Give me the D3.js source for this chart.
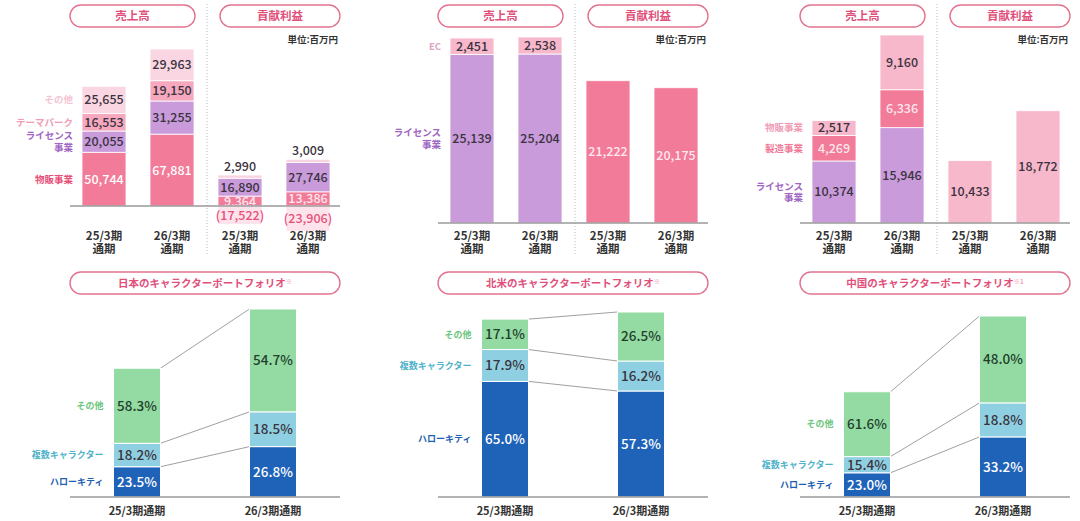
<!DOCTYPE html>
<html>
<head>
<meta charset="utf-8">
<script src="https://cdn.jsdelivr.net/npm/d3@7"></script>
<style>
  body { margin: 0; background: #fff; }
  svg { display: block; font-family: "Noto Sans CJK JP", "Noto Sans", sans-serif; }
</style>
</head>
<body>
<script>
// periods
var periods = ["25/3期", "26/3期"];

// 日本 売上高 / 貢献利益 (百万円)
var jpSalesMerch = [50744, 67881];
var jpSalesLicense = [20055, 31255];
var jpSalesTheme = [16553, 19150];
var jpSalesOther = [25655, 29963];
var jpProfitMerch = [9364, 13386];
var jpProfitLicense = [16890, 27746];
var jpProfitTheme = [2990, 3009];
var jpProfitOther = [-17522, -23906];

// 北米
var naSalesLicense = [25139, 25204];
var naSalesEC = [2451, 2538];
var naProfit = [21222, 20175];

// 中国
var cnSalesLicense = [10374, 15946];
var cnSalesMfg = [4269, 6336];
var cnSalesMerch = [2517, 9160];
var cnProfit = [10433, 18772];

// キャラクターポートフォリオ (%), bar size as relative index
var jpKitty = [23.5, 26.8], jpMulti = [18.2, 18.5], jpOther = [58.3, 54.7], jpSize = [100, 146];
var naKitty = [65.0, 57.3], naMulti = [17.9, 16.2], naOther = [17.1, 26.5], naSize = [100, 104];
var cnKitty = [23.0, 33.2], cnMulti = [15.4, 18.8], cnOther = [61.6, 48.0], cnSize = [100, 172];

var PINK = "#f27b99", LAV = "#c99bdb", THEME = "#f6a8be", OTHER = "#f9d6e1", LIGHT = "#f8b8cb";
var GREEN = "#93dba3", SKY = "#8ed0e1", BLUE = "#1f63b9";
var DARK = "#3b3340";

var fmt = d3.format(",");

var svg = d3.select("body").append("svg")
  .attr("width", 1080)
  .attr("height", 521);

function pill(g, x1, x2, y, h, label, size, note) {
  g.append("rect")
    .attr("x", x1).attr("y", y)
    .attr("width", x2 - x1).attr("height", h)
    .attr("rx", h / 2)
    .attr("fill", "#fff")
    .attr("stroke", "#e2738f")
    .attr("stroke-width", 1.4);
  var t = g.append("text")
    .attr("x", (x1 + x2) / 2).attr("y", y + h / 2)
    .attr("dy", "0.36em")
    .attr("text-anchor", "middle")
    .attr("font-size", size)
    .attr("font-weight", "bold")
    .attr("fill", "#e0507a");
  t.append("tspan").text(label);
  if (note) {
    t.append("tspan")
      .attr("font-size", size * 0.6)
      .attr("dy", "-0.5em")
      .attr("fill", "#f0a0b8")
      .text(note);
  }
}

function legendLabel(g, x, y, lines, color, size) {
  var t = g.append("text")
    .attr("x", x).attr("y", y)
    .attr("text-anchor", "end")
    .attr("font-size", size)
    .attr("font-weight", "bold")
    .attr("fill", color);
  lines.forEach(function (l, i) {
    t.append("tspan")
      .attr("x", x)
      .attr("dy", i == 0 ? (0.36 - (lines.length - 1) * 0.62) + "em" : "1.25em")
      .text(l);
  });
}

// stacked bars for one group of two periods
function drawStack(g, series, xs, y, bw) {
  var rows = periods.map(function (p, i) {
    var o = { period: p };
    series.forEach(function (s) { o[s.key] = s.values[i]; });
    return o;
  });
  var stacked = d3.stack()
    .keys(series.map(function (s) { return s.key; }))
    .offset(d3.stackOffsetDiverging)(rows);

  stacked.forEach(function (layer, li) {
    var s = series[li];
    g.append("g").selectAll("rect")
      .data(layer)
      .join("rect")
      .attr("x", function (d) { return xs(d.data.period) - bw / 2; })
      .attr("y", function (d) { return y(d[1]); })
      .attr("width", bw)
      .attr("height", function (d) { return y(d[0]) - y(d[1]); })
      .attr("fill", s.fill)
      .attr("stroke", "#fff")
      .attr("stroke-width", 0.8);
  });
  stacked.forEach(function (layer, li) {
    var s = series[li];
    g.append("g").selectAll("text")
      .data(layer)
      .join("text")
      .attr("x", function (d) { return xs(d.data.period); })
      .attr("y", function (d) {
        return s.above ? y(d[1]) - 9 : y((d[0] + d[1]) / 2);
      })
      .attr("dy", "0.36em")
      .attr("text-anchor", "middle")
      .attr("font-size", 12.5)
      .attr("font-weight", 500)
      .attr("fill", s.text)
      .text(function (d) {
        var v = d.data[s.key];
        return v < 0 ? "(" + fmt(-v) + ")" : fmt(v);
      });
  });
  return stacked;
}

function drawTopPanel(cfg) {
  var g = svg.append("g").attr("transform", "translate(" + cfg.x0 + ",0)");
  var y = d3.scaleLinear().domain([0, cfg.max]).range([cfg.base, cfg.top]);
  var xsSales = d3.scalePoint().domain(periods).range([104, 172]);
  var xsProfit = d3.scalePoint().domain(periods).range([240, 308]);
  var bw = 44;

  pill(g, 70, 195, 5, 22, "売上高", 11.5);
  pill(g, 220, 340, 5, 22, "貢献利益", 11.5);

  g.append("line")
    .attr("x1", 207).attr("x2", 207)
    .attr("y1", 4).attr("y2", 254)
    .attr("stroke", "#bbb")
    .attr("stroke-dasharray", "1,2");

  g.append("text")
    .attr("x", 338).attr("y", 43)
    .attr("text-anchor", "end")
    .attr("font-size", 9.5)
    .attr("font-weight", "bold")
    .attr("fill", "#333")
    .text("単位:百万円");

  var sales = drawStack(g, cfg.sales, xsSales, y, bw);
  drawStack(g, cfg.profit, xsProfit, y, bw);

  g.append("line")
    .attr("x1", 70).attr("x2", 340)
    .attr("y1", cfg.base).attr("y2", cfg.base)
    .attr("stroke", "#9a9a9a")
    .attr("stroke-width", 1.3);

  // legend labels beside the first sales bar
  cfg.sales.forEach(function (s, i) {
    var d = sales[i][0];
    legendLabel(g, xsSales(periods[0]) - bw / 2 - 9, y((d[0] + d[1]) / 2), s.legend, s.legendColor, 9.5);
  });

  var xl = periods.map(function (p) { return xsSales(p); })
    .concat(periods.map(function (p) { return xsProfit(p); }));
  var pl = periods.concat(periods);
  xl.forEach(function (x, i) {
    var t = g.append("text")
      .attr("x", x).attr("y", 236)
      .attr("text-anchor", "middle")
      .attr("font-size", 11.5)
      .attr("font-weight", "bold")
      .attr("fill", "#333");
    t.append("tspan").attr("x", x).attr("dy", "0.36em").text(pl[i]);
    t.append("tspan").attr("x", x).attr("dy", "1.15em").text("通期");
  });
}

function drawPortfolio(cfg) {
  var g = svg.append("g").attr("transform", "translate(" + cfg.x0 + ",0)");
  var base = 497;
  var y = d3.scaleLinear().domain([0, d3.max(cfg.size)]).range([base, cfg.top]);
  var xs = d3.scalePoint().domain(periods).range([137, 273]);
  var bw = 47;

  pill(g, 70, 340, 272, 22, cfg.title, 10.5, cfg.note);

  var keys = ["kitty", "multi", "other"];
  var pcts = [cfg.kitty, cfg.multi, cfg.other];
  var fills = [BLUE, SKY, GREEN];
  var texts = ["#fff", DARK, "#24402c"];
  var rows = periods.map(function (p, i) {
    var o = { period: p };
    keys.forEach(function (k, j) { o[k] = cfg.size[i] * pcts[j][i] / 100; });
    return o;
  });
  var stacked = d3.stack().keys(keys)(rows);

  // connector lines between the two bars
  g.append("g").selectAll("line")
    .data(stacked)
    .join("line")
    .attr("x1", xs(periods[0]) + bw / 2)
    .attr("x2", xs(periods[1]) - bw / 2)
    .attr("y1", function (d) { return y(d[0][1]); })
    .attr("y2", function (d) { return y(d[1][1]); })
    .attr("stroke", "#a0a0a0")
    .attr("stroke-width", 1);

  stacked.forEach(function (layer, li) {
    g.append("g").selectAll("rect")
      .data(layer)
      .join("rect")
      .attr("x", function (d) { return xs(d.data.period) - bw / 2; })
      .attr("y", function (d) { return y(d[1]); })
      .attr("width", bw)
      .attr("height", function (d) { return y(d[0]) - y(d[1]); })
      .attr("fill", fills[li])
      .attr("stroke", "#fff")
      .attr("stroke-width", 1);
    g.append("g").selectAll("text")
      .data(layer)
      .join("text")
      .attr("x", function (d) { return xs(d.data.period); })
      .attr("y", function (d) { return y((d[0] + d[1]) / 2); })
      .attr("dy", "0.36em")
      .attr("text-anchor", "middle")
      .attr("font-size", 13.5)
      .attr("font-weight", 500)
      .attr("fill", texts[li])
      .text(function (d, i) { return d3.format(".1f")(pcts[li][i]) + "%"; });
  });

  g.append("line")
    .attr("x1", 70).attr("x2", 340)
    .attr("y1", base).attr("y2", base)
    .attr("stroke", "#9a9a9a")
    .attr("stroke-width", 1.3);

  var names = [["ハローキティ"], ["複数キャラクター"], ["その他"]];
  var colors = ["#1f5fb2", "#4fb2c9", "#6cc67e"];
  stacked.forEach(function (layer, li) {
    var d = layer[0];
    legendLabel(g, xs(periods[0]) - bw / 2 - 10, y((d[0] + d[1]) / 2), names[li], colors[li], 9);
  });

  periods.forEach(function (p) {
    g.append("text")
      .attr("x", xs(p)).attr("y", 511)
      .attr("dy", "0.36em")
      .attr("text-anchor", "middle")
      .attr("font-size", 11)
      .attr("font-weight", "bold")
      .attr("fill", "#333")
      .text(p + "通期");
  });
}

// 日本
drawTopPanel({
  x0: 0, base: 206, top: 49,
  max: d3.max(periods.map(function (p, i) {
    return jpSalesMerch[i] + jpSalesLicense[i] + jpSalesTheme[i] + jpSalesOther[i];
  })),
  sales: [
    { key: "merch", values: jpSalesMerch, fill: PINK, text: "#fff", legend: ["物販事業"], legendColor: "#e84f78" },
    { key: "license", values: jpSalesLicense, fill: LAV, text: DARK, legend: ["ライセンス", "事業"], legendColor: "#a066c2" },
    { key: "theme", values: jpSalesTheme, fill: THEME, text: DARK, legend: ["テーマパーク"], legendColor: "#f29db5" },
    { key: "other", values: jpSalesOther, fill: OTHER, text: DARK, legend: ["その他"], legendColor: "#f4c4d3" }
  ],
  profit: [
    { key: "merch", values: jpProfitMerch, fill: PINK, text: "#fde8ee" },
    { key: "license", values: jpProfitLicense, fill: LAV, text: DARK },
    { key: "theme", values: jpProfitTheme, fill: "#f9d3df", text: DARK, above: true },
    { key: "other", values: jpProfitOther, fill: "#fde4ec", text: "#e8507a" }
  ]
});

// 北米
drawTopPanel({
  x0: 368, base: 223, top: 37,
  max: d3.max(periods.map(function (p, i) { return naSalesLicense[i] + naSalesEC[i]; })),
  sales: [
    { key: "license", values: naSalesLicense, fill: LAV, text: DARK, legend: ["ライセンス", "事業"], legendColor: "#a066c2" },
    { key: "ec", values: naSalesEC, fill: LIGHT, text: DARK, legend: ["EC"], legendColor: "#dca3c6" }
  ],
  profit: [
    { key: "profit", values: naProfit, fill: PINK, text: "#fde8ee" }
  ]
});

// 中国
drawTopPanel({
  x0: 730, base: 223, top: 35,
  max: d3.max(periods.map(function (p, i) { return cnSalesLicense[i] + cnSalesMfg[i] + cnSalesMerch[i]; })),
  sales: [
    { key: "license", values: cnSalesLicense, fill: LAV, text: DARK, legend: ["ライセンス", "事業"], legendColor: "#a066c2" },
    { key: "mfg", values: cnSalesMfg, fill: PINK, text: "#fde8ee", legend: ["製造事業"], legendColor: "#f07a98" },
    { key: "merch", values: cnSalesMerch, fill: LIGHT, text: DARK, legend: ["物販事業"], legendColor: "#f09cb6" }
  ],
  profit: [
    { key: "profit", values: cnProfit, fill: LIGHT, text: DARK }
  ]
});

drawPortfolio({ x0: 0, top: 309, size: jpSize, kitty: jpKitty, multi: jpMulti, other: jpOther, title: "日本のキャラクターポートフォリオ", note: "※" });
drawPortfolio({ x0: 368, top: 312, size: naSize, kitty: naKitty, multi: naMulti, other: naOther, title: "北米のキャラクターポートフォリオ", note: "※" });
drawPortfolio({ x0: 730, top: 316, size: cnSize, kitty: cnKitty, multi: cnMulti, other: cnOther, title: "中国のキャラクターポートフォリオ", note: "※1" });
</script>
</body>
</html>
